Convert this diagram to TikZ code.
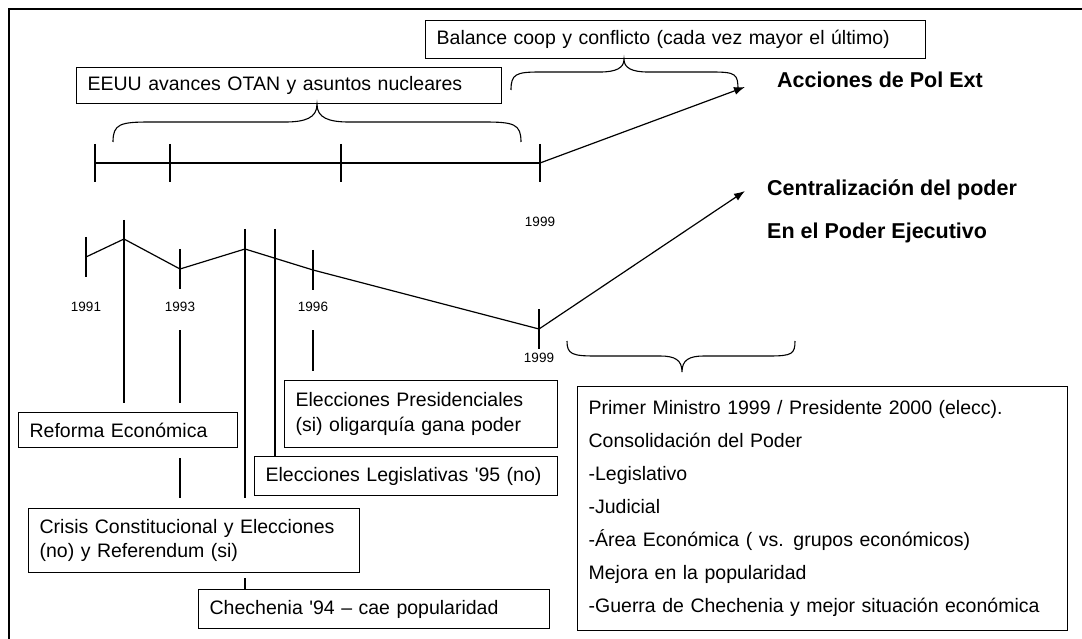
\documentclass[tikz,border=0pt]{standalone}
\usepackage{fontspec}
\setmainfont{Liberation Sans}
\usetikzlibrary{arrows.meta}
\newcommand\regf{\fontsize{19.5}{24}\selectfont}
\newcommand\boldf{\fontsize{21.5}{26}\selectfont\bfseries}
\newcommand\yearf{\fontsize{13.5}{16}\selectfont}
\begin{document}
\begin{tikzpicture}[x=1pt,y=-1pt,
  line/.style={line width=1.2pt,black},
  box/.style={draw,line width=1.3pt,fill=white,anchor=north west,inner xsep=11pt,inner ysep=0pt,align=left,font=\regf},
  year/.style={font=\yearf,inner sep=0pt},
  big/.style={font=\boldf,anchor=west,inner sep=0pt},
  arr/.style={line,-{Latex[length=11pt,width=8pt]}},
  brc/.style={line width=1.1pt,black}]
\useasboundingbox (0,0) rectangle (1082,639);
% frame
\coordinate (fbl) at (9,639);
\coordinate (ftl) at (9,9);
\coordinate (ftr) at (1082,9);
\draw[line width=1.4pt] (fbl) -- (ftl) -- (ftr);

% boxes
\node[box,text width=478pt,minimum height=38pt] (bal) at (425,20) {Balance coop y conflicto (cada vez mayor el último)};
\node[box,text width=403pt,minimum height=36pt] (eeuu) at (76,67) {EEUU avances OTAN y asuntos nucleares};
\node[box,text width=197pt,minimum height=35pt] (ref) at (18,412) {Reforma Económica};
\node[box,text width=251pt,minimum height=67pt] (pres) at (284,380) {Elecciones Presidenciales\\[1pt](si) oligarquía gana poder};
\node[box,text width=281pt,minimum height=39pt] (leg) at (254,456) {Elecciones Legislativas \textquotesingle95 (no)};
\node[box,text width=309pt,minimum height=64pt] (cri) at (28,508) {Crisis Constitucional y Elecciones\\(no) y Referendum (si)};
\node[box,text width=329pt,minimum height=39pt] (che) at (198,589) {Chechenia \textquotesingle94 -- cae popularidad};
\node[box,text width=468pt,minimum height=244pt,font={\fontsize{19.5}{33}\selectfont}] (pm) at (577,386) {Primer Ministro 1999 / Presidente 2000 (elecc).\\Consolidación del Poder\\-Legislativo\\-Judicial\\-Área Económica ( vs. grupos económicos)\\Mejora en la popularidad\\-Guerra de Chechenia y mejor situación económica};

% top timeline
\coordinate (t1) at (95,163);
\coordinate (t2) at (170,163);
\coordinate (t3) at (341,163);
\coordinate (t4) at (540,163);
\draw[line] (t1) -- (t2) -- (t3) -- (t4);
\foreach \t in {t1,t2,t3,t4} \draw[line] ([yshift=19pt]\t) -- ([yshift=-19pt]\t);
\node[year] (y99a) at (540,222) {1999};

% braces
\draw[brc] (113,142) .. controls (113,124) and (120,122) .. (150,122) -- (285,122)
  .. controls (305,122) and (317,118) .. (eeuu.south -| 317,0)
  .. controls (317,118) and (329,122) .. (349,122) -- (484,122)
  .. controls (514,122) and (521,124) .. (521,142);
\draw[brc] (511,90) .. controls (511,74) and (516,72) .. (540,72) -- (600,72)
  .. controls (616,72) and (624,68) .. (bal.south -| 624,0)
  .. controls (624,68) and (632,72) .. (648,72) -- (712,72)
  .. controls (736,72) and (738,74) .. (738,90);
\draw[brc] (567,341) .. controls (567,354) and (572,356) .. (595,356) -- (660,356)
  .. controls (675,356) and (682,360) .. (682,372)
  .. controls (682,360) and (689,356) .. (704,356) -- (769,356)
  .. controls (792,356) and (795,354) .. (795,341);

% right labels
\node[big] (acc) at (777,80) {Acciones de Pol Ext};
\node[big] (cen) at (767,190) {Centralización del poder};
\node[big] (eje) at (767,233) {En el Poder Ejecutivo};
\coordinate (a1) at (745,87);
\coordinate (a2) at (745,191);
\draw[arr] (t4) -- (a1);

% lower timeline
\coordinate (l1) at (86,257);
\coordinate (pk1) at (124,239);
\coordinate (l2) at (180,269);
\coordinate (pk2) at (245,249);
\coordinate (l3) at (313,270);
\coordinate (l4) at (539,329);
\draw[line] (l1) -- (pk1) -- (l2) -- (pk2) -- (l3) -- (l4);
\draw[arr] (l4) -- (a2);
\foreach \t in {l1,l2,l3,l4} \draw[line] ([yshift=20pt]\t) -- ([yshift=-20pt]\t);
\node[year] (y91) at (86,307) {1991};
\node[year] (y93) at (180,307) {1993};
\node[year] (y96) at (313,307) {1996};
\node[year] (y99b) at (539,358) {1999};

% verticals
\coordinate (pk1t) at (124,220);
\coordinate (pk2t) at (245,229);
\coordinate (x275t) at (275,229);
\coordinate (y93s) at (180,330);
\coordinate (y96s) at (313,330);
\draw[line,shorten >=9pt] (pk1t) -- (ref.north -| pk1t);
\draw[line,shorten >=9pt] (y93s) -- (ref.north -| y93s);
\draw[line,shorten <=10pt,shorten >=10pt] (ref.south -| y93s) -- (cri.north -| y93s);
\draw[line,shorten >=10pt] (pk2t) -- (cri.north -| pk2t);
\draw[line,shorten <=5pt] (cri.south -| pk2t) -- (che.north -| pk2t);
\draw[line] (x275t) -- (leg.north -| x275t);
\draw[line,shorten >=9pt] (y96s) -- (pres.north -| y96s);
\end{tikzpicture}
\end{document}
